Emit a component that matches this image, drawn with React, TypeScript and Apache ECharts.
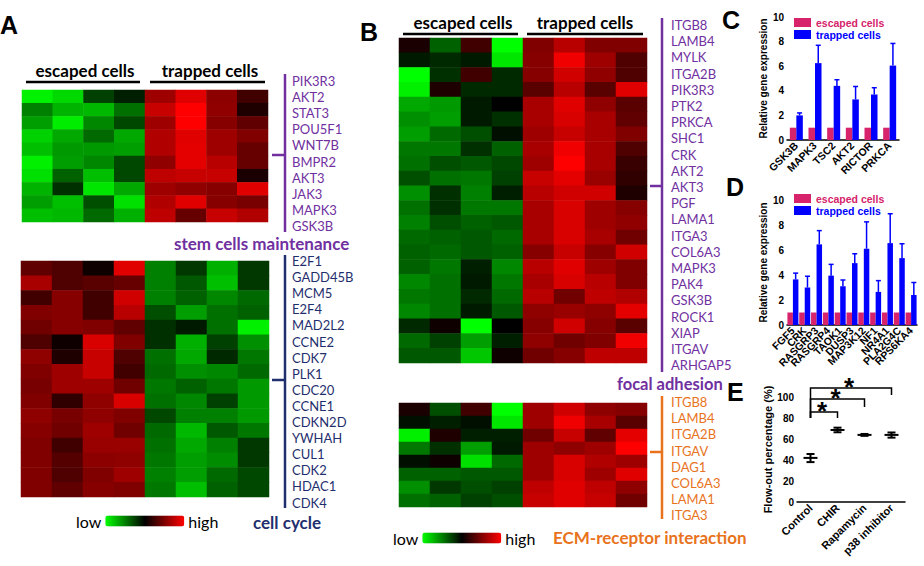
import React, { useEffect, useRef } from 'react';
import * as echarts from 'echarts';

// ---------- DATA ----------
const sampleCols = ['esc1', 'esc2', 'esc3', 'esc4', 'trap1', 'trap2', 'trap3', 'trap4'];

const stemGenes = ['PIK3R3', 'AKT2', 'STAT3', 'POU5F1', 'WNT7B', 'BMPR2', 'AKT3', 'JAK3', 'MAPK3', 'GSK3B'];
const stemValues = [
  [-0.95, -0.85, -0.25, -0.12, 0.62, 0.88, 0.55, 0.25],
  [-0.5, -0.7, -0.72, -0.44, 0.78, 1.0, 0.57, 0.12],
  [-0.62, -0.93, -0.53, -0.28, 0.62, 1.0, 0.53, 0.38],
  [-0.82, -0.66, -0.41, -0.66, 0.69, 0.88, 0.62, 0.5],
  [-0.75, -0.6, -0.6, -0.62, 0.69, 0.9, 0.62, 0.4],
  [-0.94, -0.62, -0.53, -0.28, 0.57, 0.9, 0.72, 0.4],
  [-0.88, -0.38, -0.75, -0.28, 0.75, 0.78, 0.78, 0.1],
  [-0.7, -0.19, -0.9, -0.66, 0.62, 0.57, 0.53, 0.88],
  [-0.62, -0.75, -0.31, -0.88, 0.69, 0.88, 0.53, 0.47],
  [-0.75, -0.72, -0.41, -0.69, 0.75, 0.4, 0.78, 0.69],
];

const cycleGenes = ['E2F1', 'GADD45B', 'MCM5', 'E2F4', 'MAD2L2', 'CCNE2', 'CDK7', 'PLK1', 'CDC20', 'CCNE1', 'CDKN2D', 'YWHAH', 'CUL1', 'CDK2', 'HDAC1', 'CDK4'];
const cycleValues = [
  [0.38, 0.31, 0.06, 0.88, -0.5, -0.22, -0.69, -0.22],
  [0.66, 0.31, 0.35, 0.4, -0.5, -0.35, -0.75, -0.22],
  [0.25, 0.53, 0.25, 0.82, -0.5, -0.38, -0.53, -0.41],
  [0.5, 0.53, 0.25, 0.72, -0.31, -0.62, -0.44, -0.38],
  [0.44, 0.53, 0.5, 0.38, -0.19, -0.1, -0.44, -0.94],
  [0.31, 0.06, 0.85, 0.5, -0.19, -0.69, -0.25, -0.56],
  [0.56, 0.12, 0.78, 0.31, -0.44, -0.66, -0.16, -0.47],
  [0.5, 0.62, 0.78, 0.25, -0.41, -0.56, -0.53, -0.41],
  [0.47, 0.62, 0.62, 0.44, -0.47, -0.38, -0.47, -0.6],
  [0.5, 0.19, 0.56, 0.85, -0.44, -0.53, -0.25, -0.6],
  [0.56, 0.47, 0.56, 0.5, -0.28, -0.5, -0.5, -0.6],
  [0.53, 0.44, 0.62, 0.44, -0.41, -0.72, -0.35, -0.47],
  [0.5, 0.25, 0.6, 0.6, -0.44, -0.66, -0.5, -0.22],
  [0.5, 0.33, 0.55, 0.56, -0.47, -0.62, -0.55, -0.22],
  [0.5, 0.31, 0.5, 0.62, -0.5, -0.62, -0.41, -0.28],
  [0.5, 0.38, 0.53, 0.5, -0.47, -0.75, -0.38, -0.28],
];

const focalGenes = ['ITGB8', 'LAMB4', 'MYLK', 'ITGA2B', 'PIK3R3', 'PTK2', 'PRKCA', 'SHC1', 'CRK', 'AKT2', 'AKT3', 'PGF', 'LAMA1', 'ITGA3', 'COL6A3', 'MAPK3', 'PAK4', 'GSK3B', 'ROCK1', 'XIAP', 'ITGAV', 'ARHGAP5'];
const focalValues = [
  [0.1, -0.38, 0.25, -1.0, 0.5, 0.72, 0.5, 0.5],
  [-0.1, -0.16, -0.1, -0.9, 0.53, 0.94, 0.62, 0.31],
  [-1.0, -0.19, 0.25, -0.16, 0.53, 0.82, 0.57, 0.31],
  [-0.94, 0.12, -0.16, -0.16, 0.35, 0.72, 0.35, 0.88],
  [-0.66, -0.6, -0.1, 0.0, 0.66, 0.88, 0.57, 0.35],
  [-0.56, -0.62, -0.1, -0.19, 0.66, 0.85, 0.66, 0.38],
  [-0.62, -0.41, -0.31, -0.06, 0.62, 0.78, 0.66, 0.5],
  [-0.47, -0.47, -0.19, -0.38, 0.66, 0.94, 0.66, 0.31],
  [-0.44, -0.31, -0.35, -0.28, 0.62, 1.0, 0.66, 0.22],
  [-0.31, -0.44, -0.47, -0.25, 0.78, 0.9, 0.6, 0.19],
  [-0.56, -0.19, -0.5, -0.12, 0.72, 0.82, 0.82, 0.12],
  [-0.44, -0.19, -0.47, -0.47, 0.66, 0.85, 0.62, 0.53],
  [-0.5, -0.31, -0.38, -0.35, 0.66, 0.85, 0.62, 0.57],
  [-0.41, -0.38, -0.35, -0.41, 0.66, 0.85, 0.66, 0.44],
  [-0.38, -0.41, -0.35, -0.38, 0.53, 0.78, 0.53, 0.82],
  [-0.38, -0.47, -0.12, -0.53, 0.72, 0.88, 0.62, 0.5],
  [-0.53, -0.44, -0.1, -0.47, 0.66, 0.85, 0.72, 0.5],
  [-0.47, -0.44, -0.16, -0.41, 0.72, 0.44, 0.75, 0.69],
  [-0.53, -0.44, -0.1, -0.35, 0.56, 0.6, 0.56, 0.9],
  [-0.16, 0.06, -1.0, 0.0, 0.53, 0.82, 0.53, 0.35],
  [-0.41, -0.25, -0.62, -0.12, 0.56, 0.44, 0.5, 0.94],
  [-0.35, -0.35, -0.78, 0.06, 0.44, 0.53, 0.75, 0.75],
];

const ecmGenes = ['ITGB8', 'LAMB4', 'ITGA2B', 'ITGAV', 'DAG1', 'COL6A3', 'LAMA1', 'ITGA3'];
const ecmValues = [
  [0.1, -0.31, 0.25, -1.0, 0.62, 0.82, 0.56, 0.53],
  [-0.06, -0.12, -0.06, -0.9, 0.62, 0.94, 0.66, 0.35],
  [-0.94, 0.12, -0.12, -0.12, 0.44, 0.78, 0.38, 0.9],
  [-0.47, -0.19, -0.62, -0.1, 0.62, 0.56, 0.62, 1.0],
  [-0.06, 0.06, -0.88, -0.41, 0.62, 0.85, 0.69, 0.62],
  [-0.38, -0.38, -0.35, -0.35, 0.62, 0.85, 0.62, 0.88],
  [-0.56, -0.22, -0.31, -0.25, 0.75, 0.88, 0.75, 0.56],
  [-0.44, -0.38, -0.25, -0.31, 0.78, 0.88, 0.78, 0.44],
];

const cGenes = ['GSK3B', 'MAPK3', 'TSC2', 'AKT2', 'RICTOR', 'PRKCA'];
const cEscaped = [1, 1, 1, 1, 1, 1];
const cTrapped = [2.0, 6.25, 4.4, 3.3, 3.7, 6.05];
const cTrappedUpper = [2.2, 7.7, 4.9, 4.35, 4.25, 7.85];

const dGenes = ['FGF5', 'CRK', 'RASGRP3', 'RASGRP4', 'TAOK1', 'DUSP3', 'MAP3K12', 'NF1', 'NR4A1', 'PLA2G4C', 'RPS6KA4'];
const dEscaped = [1, 1, 1, 1, 1, 1, 1, 1, 1, 1, 1];
const dTrapped = [3.65, 3.0, 6.45, 3.95, 3.1, 4.95, 6.1, 2.65, 6.55, 5.35, 2.4];
const dTrappedUpper = [4.15, 3.9, 7.55, 4.85, 3.6, 5.7, 8.25, 3.55, 8.9, 6.5, 3.4];

const eGroups = ['Control', 'CHIR', 'Rapamycin', 'p38 inhibitor'];
const eMean = [42, 68.6, 63.9, 63.9];
const eLow = [38, 66.4, 63.0, 61.3];
const eHigh = [45.7, 70.8, 64.8, 66.2];
// significance brackets: [from group, to group, bracket level, left foot, right foot]
const eBrackets = [
  [0, 3, 108.5, 80, 102],
  [0, 2, 98, 80, 90.5],
  [0, 1, 85.7, 80, 80],
];

// ---------- STYLE ----------
const PURPLE = '#7030a0';
const NAVY = '#1f2f6e';
const ORANGE = '#e8731c';
const PINK = '#d6236b';
const BLUE = '#0000ff';
const HUMAN = 'Lato, "Open Sans", sans-serif';
const ARIAL = '"Liberation Sans", Arial, sans-serif';

const toCells = (rows: number[][]) => rows.flatMap((r, i) => r.map((v, j) => [j, i, v]));

export default function App() {
  const ref = useRef<HTMLDivElement>(null);
  useEffect(() => {
    const chart = echarts.init(ref.current!, undefined, { renderer: 'svg' });

    const heatGrids = [
      { left: 22, top: 90, width: 246, height: 132 },
      { left: 21, top: 261, width: 248, height: 236 },
      { left: 399, top: 38, width: 248, height: 325 },
      { left: 399, top: 403, width: 248, height: 104 },
    ];
    const plotGrids = [
      { left: 787, top: 17, width: 112, height: 123 },
      { left: 787, top: 200, width: 130, height: 125 },
      { left: 797, top: 397, width: 108, height: 105 },
    ];
    const heatSets = [
      { genes: stemGenes, values: stemValues },
      { genes: cycleGenes, values: cycleValues },
      { genes: focalGenes, values: focalValues },
      { genes: ecmGenes, values: ecmValues },
    ];

    const axisCommon = {
      axisLine: { lineStyle: { color: '#000', width: 1.5 } },
      axisTick: { length: 4, lineStyle: { color: '#000', width: 1.5 } },
      splitLine: { show: false },
    };
    const labelCommon = { color: '#000', fontWeight: 'bold', fontSize: 10, fontFamily: ARIAL };

    const xAxes: any[] = heatSets.map((_, i) => ({ type: 'category', gridIndex: i, data: sampleCols, show: false }));
    const yAxes: any[] = heatSets.map((h, i) => ({ type: 'category', gridIndex: i, data: h.genes, inverse: true, show: false }));

    const catX = (gi: number, data: string[], fs: number) => ({
      type: 'category', gridIndex: gi, data, ...axisCommon,
      axisTick: { ...axisCommon.axisTick, alignWithLabel: true, length: 3 },
      axisLabel: { ...labelCommon, rotate: 45, interval: 0, margin: 4, fontSize: fs },
    });
    xAxes.push(catX(4, cGenes, 10.5), catX(5, dGenes, 10.5), catX(6, eGroups, 11));
    const valY = (gi: number, max: number, interval: number, name: string, nfs: number, gap: number) => ({
      type: 'value', gridIndex: gi, min: 0, max, interval, ...axisCommon,
      axisLabel: { ...labelCommon, margin: 3 },
      name, nameLocation: 'middle', nameRotate: 90, nameGap: gap,
      nameTextStyle: { ...labelCommon, fontSize: nfs },
    });
    yAxes.push(
      valY(4, 10, 2, 'Relative gene expression', 10, 19),
      valY(5, 10, 2, 'Relative gene expression', 10, 19),
      valY(6, 100, 20, 'Flow-out percentage (%)', 11, 21),
    );

    const heatSeries = heatSets.map((h, i) => ({
      type: 'heatmap', name: 'heat' + i, xAxisIndex: i, yAxisIndex: i,
      data: toCells(h.values), itemStyle: { borderWidth: 0 }, emphasis: { disabled: true },
    }));

    const errSeries = (gi: number, means: number[], uppers: number[], off: number) => ({
      type: 'custom', xAxisIndex: gi, yAxisIndex: gi, silent: true, clip: false,
      data: means.map((m, i) => [i, m, uppers[i]]),
      renderItem: (params: any, api: any) => {
        const p = api.coord([api.value(0), api.value(1)]);
        const q = api.coord([api.value(0), api.value(2)]);
        const x = p[0] + off;
        return {
          type: 'group',
          children: [
            { type: 'line', shape: { x1: x, y1: p[1], x2: x, y2: q[1] }, style: { stroke: BLUE, lineWidth: 1.5 } },
            { type: 'line', shape: { x1: x - 2.5, y1: q[1], x2: x + 2.5, y2: q[1] }, style: { stroke: BLUE, lineWidth: 1.5 } },
          ],
        };
      },
    });

    const barPair = (gi: number, esc: number[], trap: number[], bw: number) => [
      { type: 'bar', name: 'escaped cells', xAxisIndex: gi, yAxisIndex: gi, data: esc, barWidth: bw, barGap: '0%', itemStyle: { color: PINK }, silent: true },
      { type: 'bar', name: 'trapped cells', xAxisIndex: gi, yAxisIndex: gi, data: trap, barWidth: bw, barGap: '0%', itemStyle: { color: BLUE }, silent: true },
    ];

    const eSeries = {
      type: 'custom', xAxisIndex: 6, yAxisIndex: 6, silent: true, clip: false,
      data: eMean.map((m, i) => [i, m, eLow[i], eHigh[i]]),
      renderItem: (params: any, api: any) => {
        const m = api.coord([api.value(0), api.value(1)]);
        const lo = api.coord([api.value(0), api.value(2)]);
        const hi = api.coord([api.value(0), api.value(3)]);
        const x = m[0];
        const st = { stroke: '#000', lineWidth: 2 };
        return {
          type: 'group',
          children: [
            { type: 'line', shape: { x1: x - 7, y1: m[1], x2: x + 7, y2: m[1] }, style: st },
            { type: 'line', shape: { x1: x, y1: lo[1], x2: x, y2: hi[1] }, style: st },
            { type: 'line', shape: { x1: x - 4, y1: lo[1], x2: x + 4, y2: lo[1] }, style: st },
            { type: 'line', shape: { x1: x - 4, y1: hi[1], x2: x + 4, y2: hi[1] }, style: st },
          ],
        };
      },
    };

    const bracketSeries = {
      type: 'custom', xAxisIndex: 6, yAxisIndex: 6, silent: true, clip: false,
      data: eBrackets,
      renderItem: (params: any, api: any) => {
        const a = api.coord([api.value(0), api.value(2)]);
        const b = api.coord([api.value(1), api.value(2)]);
        const af = api.coord([api.value(0), api.value(3)]);
        const bf = api.coord([api.value(1), api.value(4)]);
        return {
          type: 'group',
          children: [
            { type: 'polyline', shape: { points: [[af[0], af[1]], [a[0], a[1]], [b[0], b[1]], [bf[0], bf[1]]] }, style: { stroke: '#000', lineWidth: 1.5, fill: 'none' } },
            { type: 'text', x: (a[0] + b[0]) / 2 - 2, y: a[1] - 1, style: { text: '*', fill: '#000', font: 'bold 26px ' + ARIAL, textAlign: 'center', textVerticalAlign: 'middle' } },
          ],
        };
      },
    };

    const g: any[] = [];
    const txt = (x: number, y: number, text: string, fill: string, font: string, align = 'left') =>
      g.push({ type: 'text', x, y, silent: true, style: { text, fill, font, textAlign: align, textVerticalAlign: 'middle' } });
    const ln = (x1: number, y1: number, x2: number, y2: number, stroke: string, w = 2.5) =>
      g.push({ type: 'line', silent: true, shape: { x1, y1, x2, y2 }, style: { stroke, lineWidth: w } });

    // panel letters
    const letterFont = 'bold 25px ' + ARIAL;
    txt(0, 25, 'A', '#000', letterFont);
    txt(360, 32, 'B', '#000', letterFont);
    txt(722, 20, 'C', '#000', letterFont);
    txt(726, 187, 'D', '#000', letterFont);
    txt(727, 392, 'E', '#000', letterFont);

    // column headers
    const hdrFont = 'bold 17px ' + HUMAN;
    txt(85, 70, 'escaped cells', '#000', hdrFont, 'center');
    txt(210, 70, 'trapped cells', '#000', hdrFont, 'center');
    ln(26, 82, 140, 82, '#000');
    ln(150, 82, 265, 82, '#000');
    txt(463, 22, 'escaped cells', '#000', hdrFont, 'center');
    txt(585, 22, 'trapped cells', '#000', hdrFont, 'center');
    ln(403, 34, 518, 34, '#000');
    ln(527, 34, 643, 34, '#000');

    // gene label columns with brackets
    const geneFont = '13px ' + HUMAN;
    const labelCol = (genes: string[], x: number, y0: number, step: number, color: string) =>
      genes.forEach((name, i) => txt(x, y0 + i * step, name, color, geneFont));
    labelCol(stemGenes, 292, 81, 16.1, PURPLE);
    ln(285, 74, 285, 232, PURPLE); ln(272, 155, 285, 155, PURPLE);
    labelCol(cycleGenes, 292, 261, 16.1, NAVY);
    ln(285, 255, 285, 508, NAVY); ln(272, 380, 285, 380, NAVY);
    labelCol(focalGenes, 671, 25, 16.2, PURPLE);
    ln(662, 18, 662, 372, PURPLE); ln(650, 186, 662, 186, PURPLE);
    labelCol(ecmGenes, 671, 402, 16.2, ORANGE);
    ln(662, 396, 662, 519, ORANGE); ln(650, 452, 662, 452, ORANGE);

    // pathway titles
    const pathFont = 'bold 17px ' + HUMAN;
    txt(174, 243, 'stem cells maintenance', PURPLE, pathFont);
    txt(253, 522, 'cell cycle', NAVY, pathFont);
    txt(617, 383.5, 'focal adhesion', PURPLE, 'bold 16.5px ' + HUMAN);
    txt(553, 537, 'ECM-receptor interaction', ORANGE, pathFont);

    const vm = (left: number, top: number, seriesIndex: number[]) => ({
      type: 'continuous', min: -1, max: 1, seriesIndex, orient: 'horizontal',
      left, top, itemWidth: 11, itemHeight: 79, text: ['high', 'low'], textGap: 4,
      calculable: false, hoverLink: false, padding: 0,
      inRange: { color: ['#00ff00', '#000000', '#ff0000'] },
      textStyle: { color: '#000', fontSize: 16, fontFamily: HUMAN },
    });

    const legendC = (top: number, gap: number) => ({
      left: 794, top, orient: 'vertical', itemWidth: 17, itemHeight: 9, itemGap: gap, icon: 'rect', padding: 0,
      selectedMode: false,
      textStyle: { fontWeight: 'bold', fontSize: 10.5, fontFamily: ARIAL },
      data: [
        { name: 'escaped cells', textStyle: { color: PINK } },
        { name: 'trapped cells', textStyle: { color: BLUE } },
      ],
    });

    chart.setOption({
      animation: false,
      backgroundColor: '#fff',
      grid: [...heatGrids, ...plotGrids].map((r) => ({ ...r, containLabel: false })),
      xAxis: xAxes,
      yAxis: yAxes,
      visualMap: [vm(76, 513, [0, 1]), vm(393, 530, [2, 3])],
      legend: [legendC(17, 1), legendC(193, 1)],
      series: [
        ...heatSeries,
        ...barPair(4, cEscaped, cTrapped, 6.5),
        errSeries(4, cTrapped, cTrappedUpper, 3.25),
        ...barPair(5, dEscaped, dTrapped, 5.5),
        errSeries(5, dTrapped, dTrappedUpper, 2.75),
        eSeries,
        bracketSeries,
      ],
      graphic: g,
    });
    return () => chart.dispose();
  }, []);
  return <div ref={ref} style={{ position: 'absolute', left: 0, top: 0, width: 924, height: 566 }} />;
}
